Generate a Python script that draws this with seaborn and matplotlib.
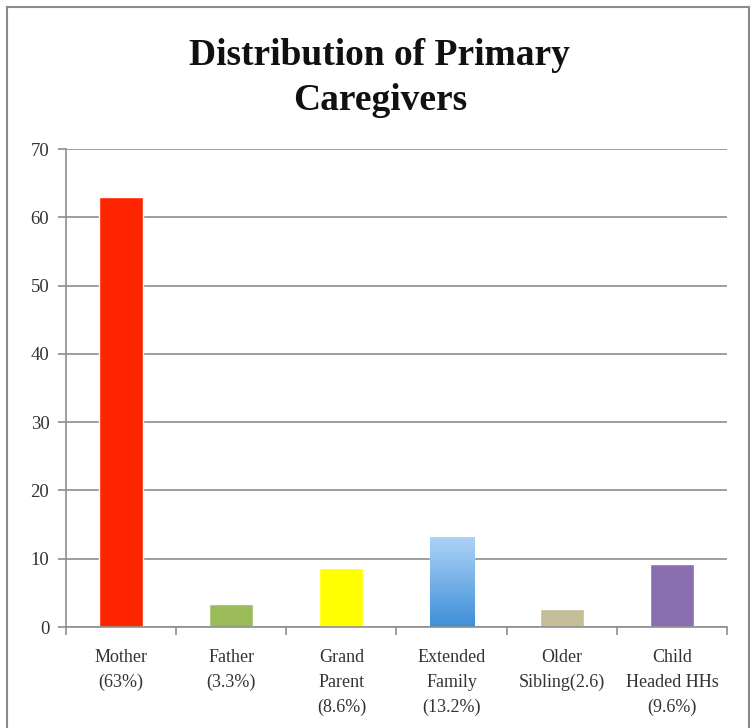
import matplotlib
matplotlib.use("Agg")
import matplotlib.pyplot as plt
import seaborn as sns
import numpy as np
import pandas as pd
from matplotlib.patches import Rectangle

categories = ["Mother\n(63%)", "Father\n(3.3%)", "Grand\nParent\n(8.6%)",
              "Extended\nFamily\n(13.2%)", "Older\nSibling(2.6)", "Child\nHeaded HHs\n(9.6%)"]
values = [63.0, 3.3, 8.6, 13.2, 2.6, 9.2]
colors = ["#FF2400", "#9BBB59", "#FFFF00", "#6FB0EE", "#C4BD97", "#8A6FB0"]
yticks = [0, 10, 20, 30, 40, 50, 60, 70]
title = "Distribution of Primary\nCaregivers"

sns.set_theme(style="white")
plt.rcParams["font.family"] = ["Liberation Serif", "DejaVu Serif"]

df = pd.DataFrame({"cat": categories, "val": values})

fig = plt.figure(figsize=(7.52, 7.28), dpi=100)
ax = fig.add_axes([66/752, 1-627/728, (727-66)/752, (627-149)/728])

sns.barplot(data=df, x="cat", y="val", hue="cat", palette=dict(zip(categories, colors)),
            width=0.4, dodge=False, legend=False, ax=ax, saturation=1)

# gradient on the Extended Family bar
p = ax.patches[3]
x0, y0 = p.get_x(), p.get_y()
w, h = p.get_width(), p.get_height()
grad = np.linspace(0, 1, 256).reshape(-1, 1)
cmap = matplotlib.colors.LinearSegmentedColormap.from_list("g", ["#3E8FDA", "#AED3F6"])
im = ax.imshow(grad, extent=[x0, x0 + w, y0, y0 + h], origin="lower", aspect="auto",
               cmap=cmap, zorder=p.get_zorder() + 0.1)
im.set_clip_path(p)

ax.set_xlim(-0.5, len(categories) - 0.5)
ax.set_ylim(0, 70)
ax.set_yticks(yticks)
ax.set_yticklabels([str(t) for t in yticks])
ax.set_xlabel("")
ax.set_ylabel("")

ax.grid(axis="y", color="#8E8E8E", linewidth=1.2)
ax.set_axisbelow(True)
for s in ["top", "right"]:
    ax.spines[s].set_visible(False)
for s in ["left", "bottom"]:
    ax.spines[s].set_color("#8E8E8E")
    ax.spines[s].set_linewidth(1.2)

ax.tick_params(axis="y", which="major", left=True, length=6, width=1.2, color="#8E8E8E",
               labelsize=13.5, labelcolor="#333333", pad=6)
ax.tick_params(axis="x", which="major", bottom=False, labelsize=13, labelcolor="#333333", pad=10)
ax.set_xticks(np.arange(-0.5, len(categories), 1.0), minor=True)
ax.tick_params(axis="x", which="minor", bottom=True, length=6, width=1.2, color="#8E8E8E")
for lab in ax.get_xticklabels():
    lab.set_linespacing(1.6)
    lab.set_horizontalalignment("center")

fig.text(0.505, 1 - 78/728, title, ha="center", va="center", fontsize=27,
         fontweight="bold", color="#111111", linespacing=1.35)

fig.patches.append(Rectangle((7/752, -0.02), (749-7)/752, 1.02 - 7/728, transform=fig.transFigure,
                             fill=False, edgecolor="#8A8A8A", linewidth=1.5, zorder=0))

fig.savefig("out.png", dpi=100)
